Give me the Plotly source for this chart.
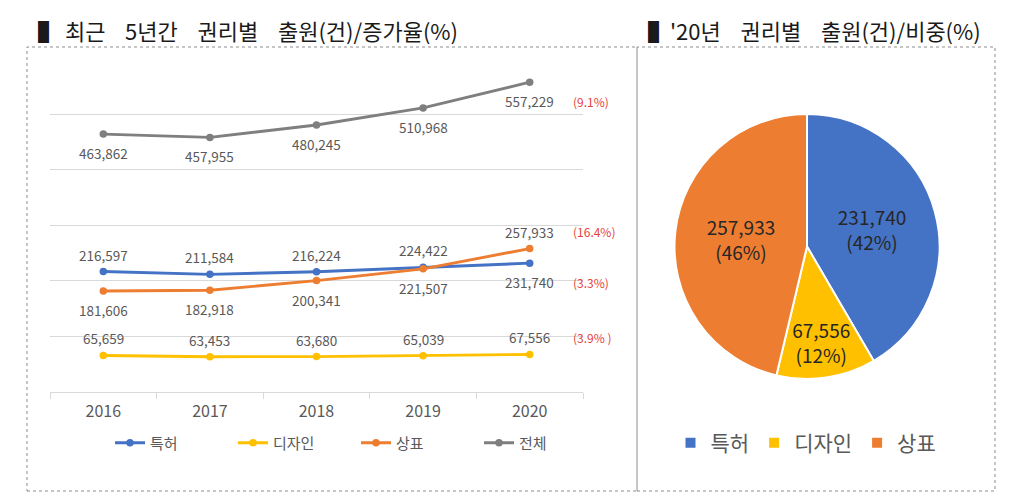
import plotly.graph_objects as go

# ---------------- data ----------------
years = ["2016", "2017", "2018", "2019", "2020"]
series_names = ["특허", "디자인", "상표", "전체"]
patent = [216597, 211584, 216224, 224422, 231740]
design = [65659, 63453, 63680, 65039, 67556]
trademark = [181606, 182918, 200341, 221507, 257933]
total = [463862, 457955, 480245, 510968, 557229]
growth_labels = ["(3.3%)", "(3.9% )", "(16.4%)", "(9.1%)"]

pie_labels = ["특허", "디자인", "상표"]
pie_values = [231740, 67556, 257933]

SP = "\u00a0\u00a0\u00a0 "
left_title = "▌ 최근" + SP + "5년간" + SP + "권리별" + SP + "출원(건)/증가율(%)"
right_title = "▌'20년" + SP + "권리별" + SP + "출원(건)/비중(%)"

# ---------------- style ----------------
W, H = 1024, 503
FONT = "Noto Sans CJK KR"
colors = ["#4472C4", "#FFC000", "#ED7D31", "#7F7F7F"]
LABEL_COLOR = "#595959"
# label placement per series / point: +1 above, -1 below
label_side = [
    [1, 1, 1, 1, -1],
    [1, 1, 1, 1, 1],
    [-1, -1, -1, -1, 1],
    [-1, -1, -1, -1, -1],
]
UP, DOWN = 17, -19


def px_x(p):
    return p / W


def px_y(p):
    return 1 - p / H


fig = go.Figure()
all_series = [patent, design, trademark, total]
for name, vals, col in zip(series_names, all_series, colors):
    fig.add_trace(go.Scatter(
        x=years, y=vals, name=name, mode="lines+markers",
        line=dict(color=col, width=2.9),
        marker=dict(color=col, size=7.5),
        legend="legend", hoverinfo="skip",
    ))

annotations = []
for vals, sides in zip(all_series, label_side):
    for i, (v, s) in enumerate(zip(vals, sides)):
        annotations.append(dict(
            x=i, y=v, xref="x", yref="y", text=f"{v:,}", showarrow=False,
            yshift=UP if s > 0 else DOWN,
            font=dict(family=FONT, size=13.5, color=LABEL_COLOR),
        ))
last = len(years) - 1
for vals, sides, g in zip(all_series, label_side, growth_labels):
    annotations.append(dict(
        x=last, y=vals[-1], xref="x", yref="y", text=g, showarrow=False,
        xanchor="left", xshift=41, yshift=UP if sides[-1] > 0 else DOWN,
        font=dict(family=FONT, size=12, color="#E8413C"),
    ))

annotations.append(dict(
    x=px_x(36), y=px_y(30), xref="paper", yref="paper", text=left_title,
    showarrow=False, xanchor="left", yanchor="middle",
    font=dict(family=FONT, size=22, color="#1a1a1a"),
))
annotations.append(dict(
    x=px_x(646), y=px_y(30), xref="paper", yref="paper", text=right_title,
    showarrow=False, xanchor="left", yanchor="middle",
    font=dict(family=FONT, size=22, color="#1a1a1a"),
))

fig.add_trace(go.Pie(
    labels=pie_labels, values=pie_values, sort=False, direction="clockwise",
    rotation=0,
    marker=dict(colors=colors[:3], line=dict(color="white", width=2)),
    texttemplate="%{value:,}<br>(%{percent:.0%})",
    textposition="inside", insidetextorientation="horizontal",
    textfont=dict(family=FONT, size=19, color="#262626"),
    domain=dict(x=[px_x(674), px_x(940)], y=[px_y(379), px_y(114)]),
    legend="legend2", hoverinfo="skip",
))

shapes = [
    dict(type="rect", xref="paper", yref="paper",
         x0=px_x(27), x1=px_x(637), y0=px_y(491), y1=px_y(47),
         line=dict(color="#8c8c8c", width=1, dash="dot")),
    dict(type="rect", xref="paper", yref="paper",
         x0=px_x(637), x1=px_x(995), y0=px_y(491), y1=px_y(47),
         line=dict(color="#8c8c8c", width=1, dash="dot")),
]

ymax = 595000
top_px = 392 - 55.6 * ymax / 100000
fig.update_layout(
    width=W, height=H, margin=dict(l=0, r=0, t=0, b=0),
    paper_bgcolor="white", plot_bgcolor="white",
    font=dict(family=FONT, color=LABEL_COLOR),
    xaxis=dict(
        domain=[px_x(50), px_x(583)], type="category",
        range=[-0.5, len(years) - 0.5], showgrid=False,
        showline=True, linecolor="#d9d9d9", linewidth=1,
        ticks="outside", tickson="boundaries", ticklen=6, tickcolor="#d9d9d9",
        tickfont=dict(family=FONT, size=16, color=LABEL_COLOR),
        ticklabelstandoff=5, fixedrange=True,
    ),
    yaxis=dict(
        domain=[px_y(392), px_y(top_px)], range=[0, ymax], dtick=100000,
        showgrid=True, gridcolor="#d9d9d9", gridwidth=1,
        showticklabels=False, zeroline=False, showline=False, fixedrange=True,
    ),
    legend=dict(
        orientation="h", x=px_x(110), xanchor="left", y=px_y(443),
        yanchor="middle", font=dict(family=FONT, size=15, color=LABEL_COLOR),
        bgcolor="rgba(0,0,0,0)", traceorder="normal",
        entrywidth=78, entrywidthmode="pixels",
    ),
    legend2=dict(
        orientation="h", x=px_x(806), xanchor="center", y=px_y(443),
        yanchor="middle", font=dict(family=FONT, size=21, color=LABEL_COLOR),
        bgcolor="rgba(0,0,0,0)",
    ),
    uniformtext=dict(minsize=19, mode="show"),
    annotations=annotations, shapes=shapes, showlegend=True,
)

fig.write_html(
    "out.html",
    config={"displayModeBar": False, "staticPlot": True},
    post_script="document.body.style.margin='0px';",
)
